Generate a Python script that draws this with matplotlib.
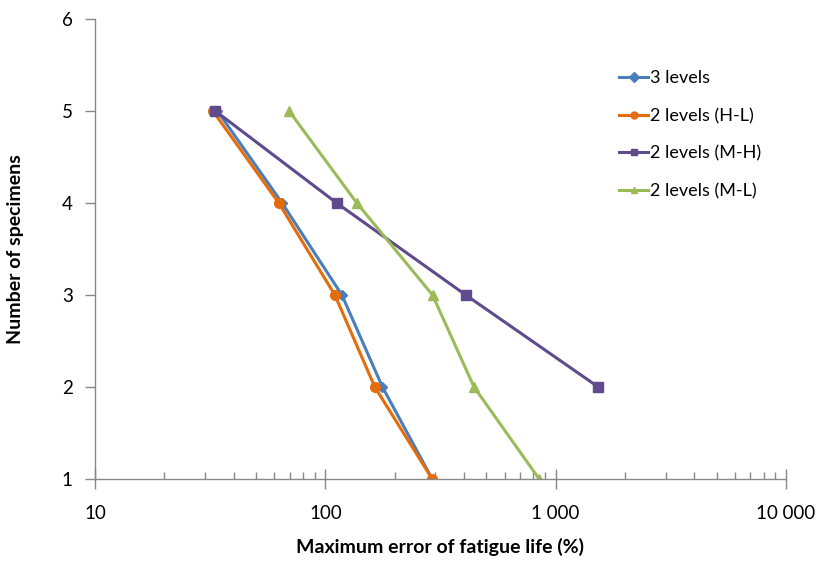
import matplotlib
matplotlib.use("Agg")
import matplotlib.pyplot as plt
from matplotlib.ticker import FixedLocator, LogLocator, NullFormatter

plt.rcParams['font.family'] = ['Lato', 'DejaVu Sans']

specimens = [5, 4, 3, 2, 1]
err_3levels = [34, 64.9, 118, 177, 291]
err_HL = [32.5, 62.8, 110, 164, 291]
err_MH = [33.3, 112, 407, 1531]
spec_MH = [5, 4, 3, 2]
err_ML = [69.6, 137, 292, 442, 848]

labels = ["3 levels", "2 levels (H-L)", "2 levels (M-H)", "2 levels (M-L)"]
x_ticks = [10, 100, 1000, 10000]
x_ticklabels = ["10", "100", "1 000", "10 000"]
y_ticks = [1, 2, 3, 4, 5, 6]

fig = plt.figure(figsize=(8.17, 5.61), dpi=100)
ax = fig.add_axes([95/817, 1 - 479/561, (786 - 95)/817, (479 - 19)/561])

ax.plot(err_3levels, specimens, color='#4A7EBB', marker='D', markersize=5, lw=2.2, label=labels[0])
ax.plot(err_HL, specimens, color='#E46C0A', marker='o', markersize=7, lw=2.2, label=labels[1])
ax.plot(err_MH, spec_MH, color='#5F4B8B', marker='s', markersize=7, lw=2.2, label=labels[2])
ax.plot(err_ML, specimens, color='#9BBB59', marker='^', markersize=7, lw=2.2, label=labels[3])

ax.set_xscale('log')
ax.set_xlim(10, 10000)
ax.set_ylim(1, 6)
ax.xaxis.set_major_locator(FixedLocator(x_ticks))
ax.set_xticklabels(x_ticklabels)
ax.xaxis.set_minor_locator(LogLocator(base=10, subs=range(2, 10)))
ax.xaxis.set_minor_formatter(NullFormatter())
ax.set_yticks(y_ticks)

for s in ['top', 'right']:
    ax.spines[s].set_visible(False)
for s in ['left', 'bottom']:
    ax.spines[s].set_color('#888888')
    ax.spines[s].set_linewidth(1.0)

ax.tick_params(axis='x', which='major', direction='inout', length=14, width=1, color='#888888', labelsize=13.5, pad=12)
ax.tick_params(axis='x', which='minor', direction='in', length=5, width=1, color='#888888')
ax.tick_params(axis='y', which='major', direction='out', length=7, width=1, color='#888888', labelsize=13.5, pad=9)

ax.set_xlabel("Maximum error of fatigue life (%)", fontsize=14, fontweight='bold', labelpad=11)
ax.set_ylabel("Number of specimens", fontsize=14, fontweight='bold', labelpad=27)

leg = ax.legend(loc='upper left', bbox_to_anchor=(612/817, 1 - 63/561), bbox_transform=fig.transFigure,
                frameon=False, fontsize=13, handlelength=1.6, handletextpad=0.1, labelspacing=1.2,
                borderaxespad=0)
for h in leg.legend_handles:
    h.set_markersize(5)

fig.savefig("out.png", dpi=100)
